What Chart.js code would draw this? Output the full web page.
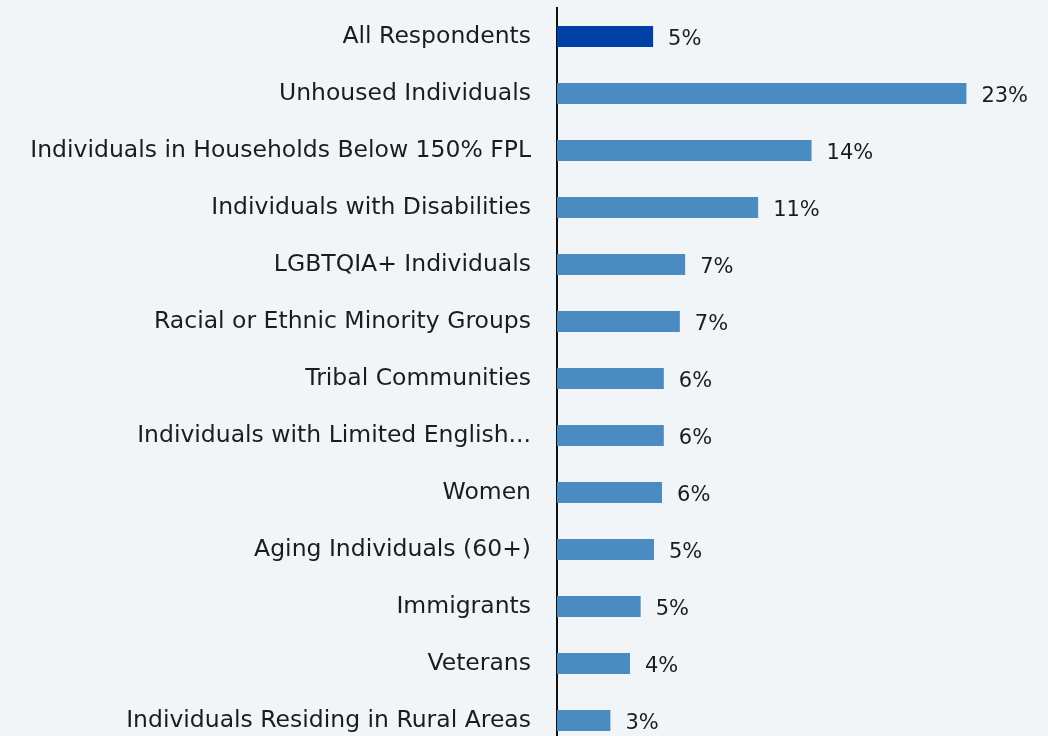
<!DOCTYPE html>
<html>
<head>
<meta charset="utf-8">
<script src="https://cdn.jsdelivr.net/npm/chart.js@4.4.1/dist/chart.umd.min.js"></script>
<style>
    html, body { margin: 0; padding: 0; background: #f1f5f7; overflow: hidden; }
    #wrap { width: 1048px; height: 749px; }
</style>
</head>
<body>
<div id="wrap"><canvas id="groupsChart" width="1048" height="749"></canvas></div>
<script>
// Share of respondents by group
const groups = [
    'All Respondents',
    'Unhoused Individuals',
    'Individuals in Households Below 150% FPL',
    'Individuals with Disabilities',
    'LGBTQIA+ Individuals',
    'Racial or Ethnic Minority Groups',
    'Tribal Communities',
    'Individuals with Limited English...',
    'Women',
    'Aging Individuals (60+)',
    'Immigrants',
    'Veterans',
    'Individuals Residing in Rural Areas'
];
const shares = [5.4, 23.0, 14.3, 11.3, 7.2, 6.9, 6.0, 6.0, 5.9, 5.45, 4.7, 4.1, 3.0];

const FONT = '"DejaVu Sans", sans-serif';
const TEXT = '#1c1c1c';

// Percent labels to the right of each bar
const valueLabels = {
    id: 'valueLabels',
    afterDatasetsDraw(chart) {
        const ctx = chart.ctx;
        const meta = chart.getDatasetMeta(0);
        ctx.save();
        ctx.font = '21px ' + FONT;
        ctx.fillStyle = TEXT;
        ctx.textAlign = 'left';
        ctx.textBaseline = 'middle';
        meta.data.forEach((bar, i) => {
            ctx.fillText(Math.round(shares[i]) + '%', bar.x + 15, bar.y + 3);
        });
        ctx.restore();
    }
};

new Chart(document.getElementById('groupsChart'), {
    type: 'bar',
    data: {
        labels: groups,
        datasets: [{
            data: shares,
            backgroundColor: shares.map((v, i) => i === 0 ? '#003fa3' : '#4a8bc1'),
            barPercentage: 0.37,
            categoryPercentage: 1
        }]
    },
    options: {
        indexAxis: 'y',
        responsive: false,
        animation: false,
        layout: { padding: { top: 8, right: 46, bottom: 0, left: 0 } },
        plugins: {
            legend: { display: false },
            tooltip: { enabled: false }
        },
        scales: {
            x: { display: false, min: 0, max: 25 },
            y: {
                afterFit: (scale) => {
                    // fixed label column, no extra room above/below the rows
                    scale.width = 557;
                    scale.paddingTop = 0;
                    scale.paddingBottom = 0;
                },
                grid: { drawOnChartArea: false, drawTicks: false },
                border: { display: true, color: '#111', width: 2 },
                ticks: {
                    padding: 26,
                    color: TEXT,
                    font: { family: FONT, size: 23.5 }
                }
            }
        }
    },
    plugins: [valueLabels]
});
</script>
</body>
</html>
